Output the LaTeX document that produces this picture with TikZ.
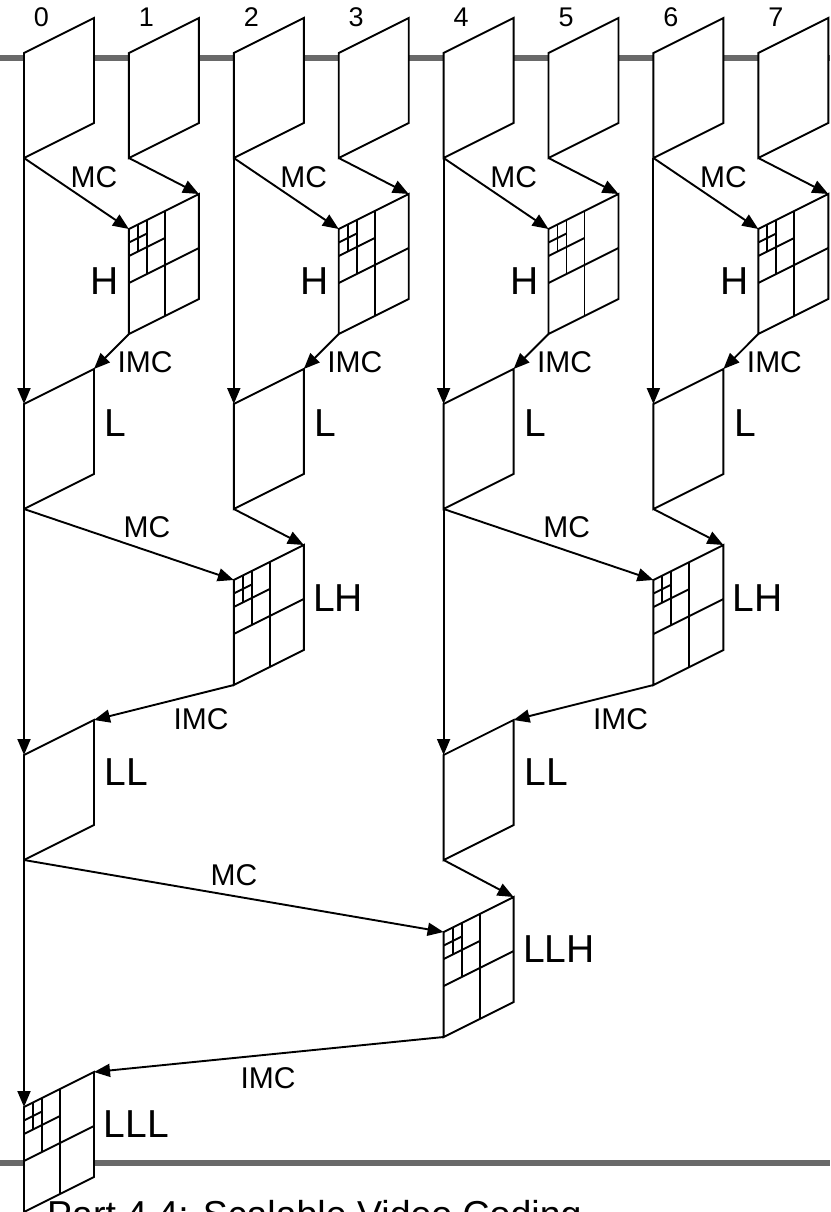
\documentclass[tikz,border=0pt]{standalone}
\usepackage{fontspec}
\setmainfont{Liberation Sans}
\usetikzlibrary{arrows.meta,calc}
\newcommand{\vframe}[3]{%
  \coordinate (#1-tl) at (#2,#3);
  \coordinate (#1-tr) at (#2+70,#3-35);
  \coordinate (#1-br) at (#2+70,#3+70);
  \coordinate (#1-bl) at (#2,#3+105);
  \draw[frm] (#1-tl) -- (#1-tr) -- (#1-br) -- (#1-bl) -- cycle;}
\newcommand{\wgrid}[1]{%
  \draw[frm] ($(#1-tl)+(36,-18)$) -- ++(0,105);
  \draw[frm] ($(#1-tl)+(0,54)$) -- ++(70,-35);
  \draw[frm] ($(#1-tl)+(18,-9)$) -- ++(0,54);
  \draw[frm] ($(#1-tl)+(0,27)$) -- ++(36,-18);
  \draw[frm] ($(#1-tl)+(9,-4.5)$) -- ++(0,27);
  \draw[frm] ($(#1-tl)+(0,13.5)$) -- ++(18,-9);}
\begin{document}
\begin{tikzpicture}[x=1pt,y=-1pt,
  frm/.style={line width=1.9pt,line join=miter,fill=white},
  arr/.style={line width=1.9pt,-{Triangle[length=16pt,width=13pt]}},
  band/.style={line width=6pt,draw={rgb,255:red,105;green,105;blue,105}},
  digit/.style={inner sep=0pt,anchor=base,font=\fontsize{27}{32}\selectfont},
  small/.style={inner sep=0pt,anchor=base,font=\fontsize{30}{36}\selectfont},
  big/.style={inner sep=0pt,anchor=base,font=\fontsize{39}{46}\selectfont}]
\useasboundingbox (0,0) rectangle (830,1212);
\coordinate (g1a) at (0,58); \coordinate (g1b) at (830,58);
\coordinate (g2a) at (0,1163); \coordinate (g2b) at (830,1163);
\draw[band] (g1a) -- (g1b);
\draw[band] (g2a) -- (g2b);
% input frames
\foreach \i in {0,...,7} {
  \vframe{f\i}{24+104.9*\i}{53}
  \node[digit] (d\i) at (41.5+104.9*\i,27) {\i};
}
% level 1
\foreach \k [evaluate=\k as \e using int(2*\k), evaluate=\k as \o using int(2*\k+1)] in {0,...,3} {
  \vframe{h\o}{24+104.9*\o}{229}
  \wgrid{h\o}
  \vframe{l\e}{24+104.9*\e}{404}
  \draw[arr] (f\e-bl) -- (h\o-tl);
  \draw[arr] (f\o-bl) -- (h\o-tr);
  \draw[arr] (h\o-bl) -- (l\e-tr);
  \draw[arr] (f\e-bl) -- (l\e-tl);
  \node[small] (mca\k) at (94+209.8*\k,187) {MC};
  \node[small] (imca\k) at (145+209.8*\k,372) {IMC};
  \node[big] (hl\k) at (105+209.8*\k,294) {H};
  \node[big] (ll\k) at (115.5+209.8*\k,436) {L};
}
% level 2
\foreach \k [evaluate=\k as \a using int(4*\k), evaluate=\k as \b using int(4*\k+2)] in {0,1} {
  \vframe{lh\b}{24+104.9*\b}{580}
  \wgrid{lh\b}
  \vframe{ll\a}{24+104.9*\a}{755}
  \draw[arr] (l\a-bl) -- (lh\b-tl);
  \draw[arr] (l\b-bl) -- (lh\b-tr);
  \draw[arr] (lh\b-bl) -- (ll\a-tr);
  \draw[arr] (l\a-bl) -- (ll\a-tl);
  \node[small] (mcb\k) at (147+419.6*\k,537) {MC};
  \node[small] (imcb\k) at (201+419.6*\k,729) {IMC};
  \node[big] (lhl\k) at (338+419.6*\k,611) {LH};
  \node[big] (lll\k) at (126.5+419.6*\k,785) {LL};
}
% level 3
\vframe{llh}{443.6}{932}
\wgrid{llh}
\vframe{lll}{24}{1107}
\wgrid{lll}
\draw[arr] (ll0-bl) -- (llh-tl);
\draw[arr] (ll4-bl) -- (llh-tr);
\draw[arr] (llh-bl) -- (lll-tr);
\draw[arr] (ll0-bl) -- (lll-tl);
\node[small] (mcc) at (234,885) {MC};
\node[small] (imcc) at (268,1088) {IMC};
\node[big] (llhl) at (559,962) {LLH};
\node[big] (llll) at (136.5,1137) {LLL};
\node[inner sep=0pt,anchor=base west,font=\fontsize{37.5}{44}\selectfont] (cap) at (47,1227) {Part 4.4: Scalable Video Coding};
\end{tikzpicture}
\end{document}
